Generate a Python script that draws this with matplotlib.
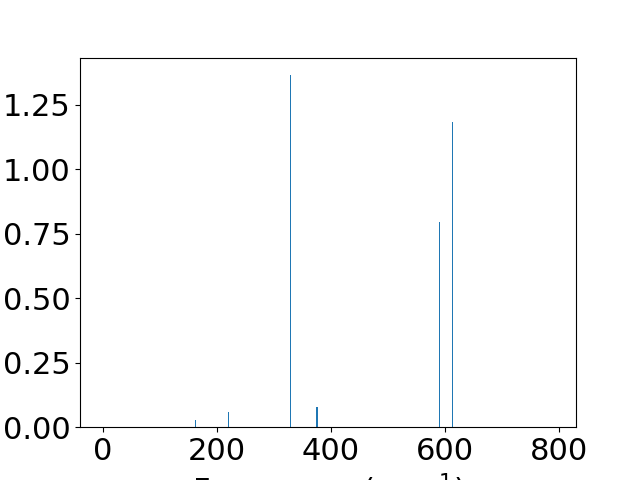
import matplotlib
matplotlib.use("Agg")
import matplotlib.pyplot as plt

# vibrational modes: frequency (cm^-1) and intensity
freqs = [162, 220, 329, 374, 376, 590, 614]
intens = [0.027, 0.058, 1.364, 0.079, 0.079, 0.796, 1.184]

plt.rcParams.update({"font.size": 22})

fig, ax = plt.subplots(figsize=(6.4, 4.8), dpi=100)
ax.bar(freqs, intens, width=1.7, color="#1f77b4")
ax.set_xlim(-40, 830)
ax.set_xlabel("Frequency (cm$^{-1}$)")
fig.savefig("out.png")
